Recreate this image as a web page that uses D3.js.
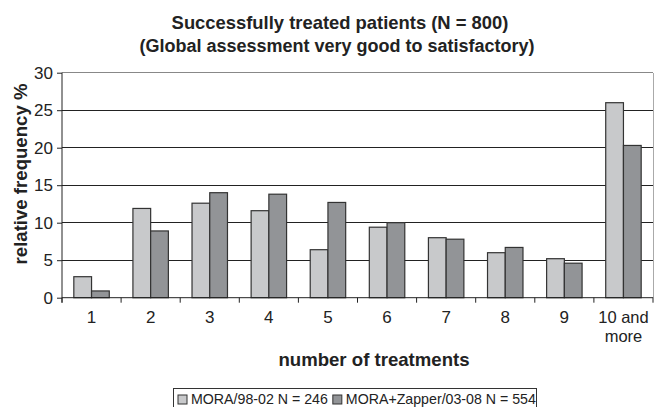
<!DOCTYPE html>
<html><head><meta charset="utf-8">
<script src="https://cdn.jsdelivr.net/npm/d3@7"></script>
<style>body{margin:0;background:#fff}svg{display:block}text{font-family:"Liberation Sans",Arial,sans-serif;fill:#222}</style>
</head><body><svg id="c" width="661" height="407"></svg>
<script>
const categories = ["1","2","3","4","5","6","7","8","9","10 and more"];
const seriesNames = ["MORA/98-02 N = 246","MORA+Zapper/03-08 N = 554"];
const mora = [2.8,11.9,12.6,11.6,6.4,9.4,8.0,6.0,5.2,26.0];
const zapper = [0.9,8.9,14.0,13.8,12.7,10.0,7.8,6.7,4.6,20.3];
const yTicks = [0,5,10,15,20,25,30];
const colors = ["#c8c9cb","#929497"];

const svg = d3.select("#c");
const L=62, R=653, T=72.7, B=297.7;
const x = d3.scaleBand().domain(categories).range([L,R]).padding(0);
const xs = d3.scaleBand().domain([0,1]).range([x.bandwidth()*0.2, x.bandwidth()*0.8]).padding(0);
const y = d3.scaleLinear().domain([0,30]).range([B,T]);

// gridlines
svg.append("g").selectAll("line").data(yTicks.filter(d=>d>0)).join("line")
  .attr("x1",L).attr("x2",R).attr("y1",d=>y(d)).attr("y2",d=>y(d))
  .attr("stroke",d=>d===30?"#888":"#222").attr("stroke-width",1).attr("shape-rendering","crispEdges");
// right border
svg.append("line").attr("x1",R).attr("x2",R).attr("y1",T).attr("y2",B).attr("stroke","#aaa").attr("shape-rendering","crispEdges");

// bars
const data = [mora, zapper];
data.forEach((vals,si)=>{
  svg.append("g").selectAll("rect").data(vals).join("rect")
    .attr("x",(d,i)=>x(categories[i])+xs(si))
    .attr("width",xs.bandwidth())
    .attr("y",d=>y(d)).attr("height",d=>y(0)-y(d))
    .attr("fill",colors[si]).attr("stroke","#333").attr("stroke-width",1.2);
});

// y axis
const ya = svg.append("g").attr("transform",`translate(${L},0)`)
  .call(d3.axisLeft(y).tickValues(yTicks).tickSize(5).tickPadding(4));
ya.select(".domain").attr("stroke","#222").attr("d",`M-0,${T}V${B+5}`);
ya.selectAll("line").attr("stroke","#222");
ya.selectAll("text").attr("font-size",17).attr("fill","#222").style("font-family","Liberation Sans, Arial");

// x axis
const xa = svg.append("g").attr("transform",`translate(0,${B})`)
  .call(d3.axisBottom(x).tickSize(0).tickFormat(""));
xa.selectAll(".tick text").remove();
xa.select(".domain").attr("stroke","#222").attr("d",`M${L},0H${R}`);
const bounds = categories.map(c=>x(c)).concat([R]);
xa.selectAll(".bt").data(bounds).join("line").attr("class","bt")
  .attr("x1",d=>d).attr("x2",d=>d).attr("y1",0).attr("y2",5).attr("stroke","#222");
xa.selectAll(".tick").each(function(d){
  const g=d3.select(this);
  const words = d==="10 and more" ? ["10 and","more"] : [d];
  const fs = words.length>1 ? 16.5 : 17;
  words.forEach((w,i)=>g.append("text").attr("text-anchor","middle").attr("font-size",fs)
    .attr("fill","#222").attr("x",0).attr("y",25+i*19).text(w));
});

// titles
svg.append("text").attr("x",340).attr("y",29).attr("text-anchor","middle").attr("font-size",18.4).attr("font-weight","bold").text("Successfully treated patients (N = 800)");
svg.append("text").attr("x",337).attr("y",52).attr("text-anchor","middle").attr("font-size",18).attr("font-weight","bold").text("(Global assessment very good to satisfactory)");
svg.append("text").attr("transform",`translate(27,174) rotate(-90)`).attr("text-anchor","middle").attr("font-size",18.6).attr("font-weight","bold").text("relative frequency %");
svg.append("text").attr("x",374).attr("y",366).attr("text-anchor","middle").attr("font-size",18.6).attr("font-weight","bold").text("number of treatments");

// legend
const lg = svg.append("g");
lg.append("rect").attr("x",173.5).attr("y",388.5).attr("width",363).attr("height",22).attr("fill","none").attr("stroke","#333");
let lx = 178;
seriesNames.forEach((s,i)=>{
  lg.append("rect").attr("x",lx).attr("y",395).attr("width",9).attr("height",9).attr("fill",colors[i]).attr("stroke","#333");
  const t = lg.append("text").attr("x",lx+13).attr("y",404).attr("font-size",14.2).text(s);
  lx += 13 + t.node().getComputedTextLength() + 5;
});
</script></body></html>
